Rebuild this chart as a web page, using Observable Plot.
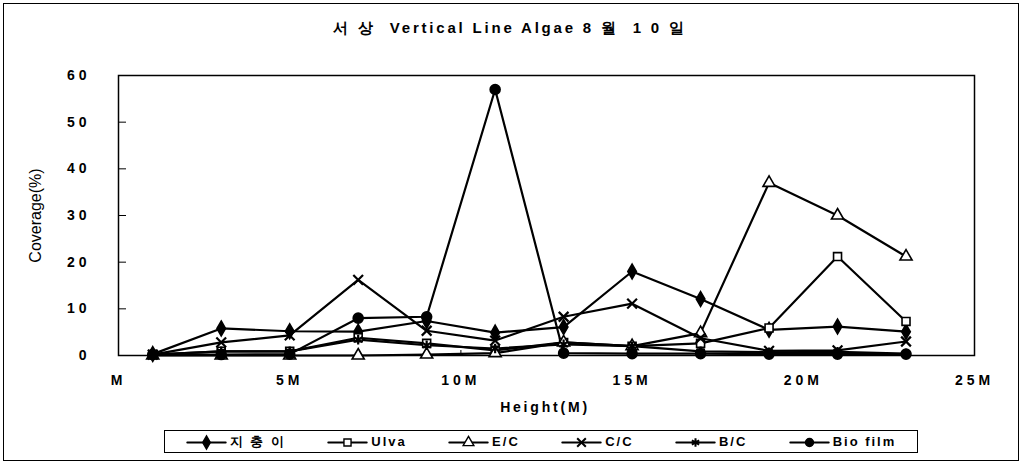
<!DOCTYPE html>
<html>
<head>
<meta charset="utf-8">
<script src="https://cdn.jsdelivr.net/npm/d3@7"></script>
<script src="https://cdn.jsdelivr.net/npm/@observablehq/plot@0.6"></script>
<style>
  html, body { margin: 0; padding: 0; background: #fff; }
  body { width: 1030px; height: 464px; position: relative; overflow: hidden;
         font-family: "Liberation Sans", Arial, sans-serif; color: #000; }
  #frame { position: absolute; left: 3px; top: 3px; width: 1014px; height: 456px; border: 1.5px solid #000; }
  #title { position: absolute; left: 0; width: 1020px; top: 19px; text-align: center;
           font-size: 15px; font-weight: bold; letter-spacing: 2.8px; }
  #chart { position: absolute; left: 0; top: 0; }
  #xlabel { position: absolute; top: 399px; left: 445px; width: 200px; text-align: center;
            font-size: 14px; font-weight: bold; letter-spacing: 2.8px; }
  #legend { position: absolute; left: 164px; top: 430px; width: 752px; height: 21px;
            border: 1.5px solid #000; display: flex; align-items: center; justify-content: space-around;
            font-size: 13px; font-weight: bold; letter-spacing: 2px; }
  .item { display: flex; align-items: center; gap: 4px; }
  .y-tick text, .x-tick text { letter-spacing: 4px; }
</style>
</head>
<body>
<div id="frame"></div>
<div id="title">서 상 &nbsp;Vertical Line Algae 8 월 &nbsp;1 0 일</div>
<div id="chart"></div>
<div id="xlabel">Height(M)</div>
<div id="legend"></div>
<script>
// Heights (M)
const heights = [1, 3, 5, 7, 9, 11, 13, 15, 17, 19, 21, 23];
// Coverage (%) per series
const jichungi = [0.3, 5.8, 5.2, 5.1, 7.4, 4.9, 6.1, 18.0, 12.1, 5.5, 6.2, 5.1];
const ulva     = [0.2, 0.9, 0.9, 3.8, 2.6, 1.1, 2.8, 2.0, 2.6, 5.9, 21.2, 7.3];
const ec       = [0.0, 0.0, 0.0, 0.0, 0.2, 0.5, 2.8, 2.0, 4.8, 37.0, 30.0, 21.2];
const cc       = [0.2, 2.8, 4.3, 16.2, 5.3, 3.2, 8.3, 11.1, 3.7, 1.0, 1.1, 3.0];
const bc       = [0.2, 0.9, 0.9, 3.4, 2.2, 1.5, 2.4, 2.0, 0.9, 0.7, 0.8, 0.4];
const biofilm  = [0.2, 0.2, 0.3, 8.0, 8.3, 57.0, 0.5, 0.4, 0.4, 0.3, 0.3, 0.3];

const seriesNames = ["지 충 이", "Ulva", "E/C", "C/C", "B/C", "Bio film"];
const seriesValues = [jichungi, ulva, ec, cc, bc, biofilm];
const seriesSymbols = ["diamond", "square", "triangle", "times", "asterisk", "circle"];
const seriesFill = ["#000", "#fff", "#fff", "none", "none", "#000"];

const xTicks = [0, 5, 10, 15, 20, 25];
const xTickLabels = ["M", "5M", "10M", "15M", "20M", "25M"];
const yTicks = [0, 10, 20, 30, 40, 50, 60];

const rows = [];
seriesNames.forEach((name, i) => {
  heights.forEach((h, j) => rows.push({series: name, idx: i, h, v: seriesValues[i][j]}));
});

const marks = [
  Plot.frame({stroke: "#000", strokeWidth: 1.5}),
  Plot.axisY(yTicks, {anchor: "left", tickSize: -8, tickPadding: 36, label: null,
    fontSize: 14, fontWeight: "bold", className: "y-tick"}),
  Plot.axisX(xTicks, {anchor: "bottom", tickSize: -5, tickPadding: 25, label: null,
    tickFormat: (d, i) => xTickLabels[xTicks.indexOf(d)],
    fontSize: 14, fontWeight: "bold", className: "x-tick"}),
  Plot.text(["Coverage(%)"], {frameAnchor: "left", dx: -83, rotate: -90, fontSize: 16,
    textAnchor: "middle", text: d => d})
];
seriesNames.forEach((name, i) => {
  const data = rows.filter(r => r.idx === i);
  marks.push(Plot.line(data, {x: "h", y: "v", stroke: "#000", strokeWidth: 2.2}));
});
seriesNames.forEach((name, i) => {
  const data = rows.filter(r => r.idx === i);
  const stroked = seriesFill[i] === "none";
  marks.push(Plot.dot(data, {x: "h", y: "v", symbol: () => seriesSymbols[i],
    r: i === 5 ? 5 : 4.5,
    fill: stroked ? "none" : seriesFill[i], stroke: "#000",
    strokeWidth: stroked ? 2.2 : 1.6}));
});

const chart = Plot.plot({
  width: 1030, height: 420,
  marginLeft: 118, marginRight: 56, marginTop: 75, marginBottom: 65,
  x: {domain: [0, 25]},
  y: {domain: [0, 60]},
  symbol: {type: "identity"},
  style: {fontFamily: "'Liberation Sans', Arial, sans-serif", color: "#000", background: "transparent", overflow: "visible"},
  marks
});
document.getElementById("chart").appendChild(chart);

// Legend
const legend = document.getElementById("legend");
seriesNames.forEach((name, i) => {
  const item = document.createElement("div");
  item.className = "item";
  const sw = Plot.plot({
    width: 40, height: 16, margin: 0,
    x: {domain: [0, 1], axis: null}, y: {domain: [0, 1], axis: null},
    symbol: {type: "identity"},
    marks: [
      Plot.lineY([{x: 0.02, y: 0.5}, {x: 0.98, y: 0.5}], {x: "x", y: "y", stroke: "#000", strokeWidth: 2}),
      Plot.dot([{x: 0.5, y: 0.5}], {x: "x", y: "y", symbol: () => seriesSymbols[i], r: 4,
        fill: seriesFill[i] === "none" ? "none" : seriesFill[i], stroke: "#000",
        strokeWidth: seriesFill[i] === "none" ? 2 : 1.4})
    ],
    style: {background: "transparent", overflow: "visible"}
  });
  item.appendChild(sw);
  const t = document.createElement("span");
  t.textContent = name;
  item.appendChild(t);
  legend.appendChild(item);
});
</script>
</body>
</html>
